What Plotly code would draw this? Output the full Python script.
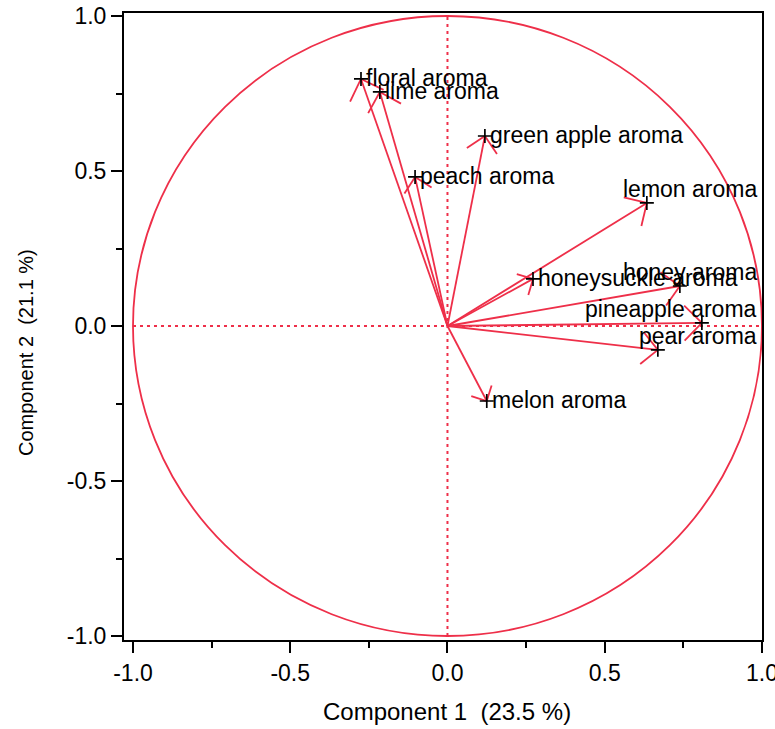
import numpy as np
import plotly.graph_objects as go

# ---------------- data ----------------
variables = ["floral aroma", "lime aroma", "green apple aroma", "peach aroma",
             "lemon aroma", "honeysuckle aroma", "honey aroma",
             "pineapple aroma", "pear aroma", "melon aroma"]
comp1 = [-0.275, -0.215, 0.119, -0.103, 0.634, 0.272, 0.739, 0.809, 0.669, 0.125]
comp2 = [0.797, 0.755, 0.613, 0.481, 0.397, 0.152, 0.129, 0.010, -0.077, -0.242]

tick_vals = [-1.0, -0.5, 0.0, 0.5, 1.0]
tick_text = ["-1.0", "-0.5", "0.0", "0.5", "1.0"]
x_title = "Component 1\u00a0 (23.5 %)"
y_title = "Component 2\u00a0 (21.1 %)"

# labels that were pushed inside the frame (right-aligned, raised)
shifted_labels = {"lemon aroma", "honey aroma", "pineapple aroma", "pear aroma"}

# ---------------- style ----------------
W, H = 775, 729
ML, MR, MT, MB = 124, 13, 13, 89
XR = [-1.0286, 1.0002]
YR = [-1.0129, 1.0097]
RED = "#ee2f49"
FONT = "Liberation Sans, Arial, Helvetica, sans-serif"
LABEL_SIZE = 23

pw, ph = W - ML - MR, H - MT - MB
sx = pw / (XR[1] - XR[0])
sy = ph / (YR[1] - YR[0])

fig = go.Figure()

# arrows (shaft + open head), computed from the loadings
xs, ys = [], []
for x, y in zip(comp1, comp2):
    px, py = x * sx, y * sy
    L = np.hypot(px, py)
    ux, uy = -px / L, -py / L
    hl = 12 + 0.05 * L
    xs += [0, x, None]
    ys += [0, y, None]
    for ang in (np.pi / 4, -np.pi / 4):
        rx = ux * np.cos(ang) - uy * np.sin(ang)
        ry = ux * np.sin(ang) + uy * np.cos(ang)
        xs += [x + hl * rx / sx, x, None]
        ys += [y + hl * ry / sy, y, None]

fig.add_trace(go.Scatter(x=xs, y=ys, mode="lines",
                         line=dict(color=RED, width=1.8),
                         hoverinfo="skip", showlegend=False))

fig.add_trace(go.Scatter(x=comp1, y=comp2, mode="markers",
                         marker=dict(symbol="cross-thin", size=10,
                                     line=dict(color="black", width=1.7)),
                         text=variables, hoverinfo="text", showlegend=False))

# circle and dotted axes
fig.add_shape(type="circle", x0=-1, y0=-1, x1=1, y1=1,
              line=dict(color=RED, width=1.8), layer="below")
fig.add_shape(type="line", x0=0, x1=0, y0=-1, y1=1,
              line=dict(color=RED, width=2, dash="3px,4px"), layer="below")
fig.add_shape(type="line", x0=-1, x1=1, y0=0, y1=0,
              line=dict(color=RED, width=2, dash="3px,4px"), layer="below")

# labels
for name, x, y in zip(variables, comp1, comp2):
    if name in shifted_labels:
        fig.add_annotation(x=1.0, y=y, text=name, showarrow=False,
                           xanchor="right", yanchor="middle", xshift=-3, yshift=14,
                           font=dict(family=FONT, size=LABEL_SIZE, color="black"))
    else:
        fig.add_annotation(x=x, y=y, text=name, showarrow=False,
                           xanchor="left", yanchor="middle", xshift=3, yshift=1,
                           font=dict(family=FONT, size=LABEL_SIZE, color="black"))

# axis titles
fig.add_annotation(xref="paper", yref="paper", x=(447 - ML) / pw, y=(H - MB - 711) / ph,
                   text=x_title, showarrow=False, xanchor="center", yanchor="middle",
                   font=dict(family=FONT, size=24, color="black"))
fig.add_annotation(xref="paper", yref="paper", x=(26 - ML) / pw, y=(H - MB - 353) / ph,
                   text=y_title, showarrow=False, textangle=-90,
                   xanchor="center", yanchor="middle",
                   font=dict(family=FONT, size=20, color="black"))

axis_common = dict(
    tickvals=tick_vals, ticktext=tick_text,
    ticks="outside", ticklen=11, tickwidth=1.5, tickcolor="black",
    showline=True, linecolor="black", linewidth=2, mirror=True,
    showgrid=False, zeroline=False, automargin=False,
    ticklabeloverflow="allow",
    tickfont=dict(family=FONT, size=23, color="black"),
    minor=dict(tickvals=[-0.75, -0.25, 0.25, 0.75], ticks="outside",
               ticklen=6, tickwidth=1.5, tickcolor="black"),
)

fig.update_xaxes(range=XR, **axis_common)
fig.update_yaxes(range=YR, **axis_common)

fig.update_layout(
    width=W, height=H,
    margin=dict(l=ML, r=MR, t=MT, b=MB, pad=0, autoexpand=False),
    plot_bgcolor="white", paper_bgcolor="white",
    font=dict(family=FONT, color="black"),
)

fig.write_html("out.html")
